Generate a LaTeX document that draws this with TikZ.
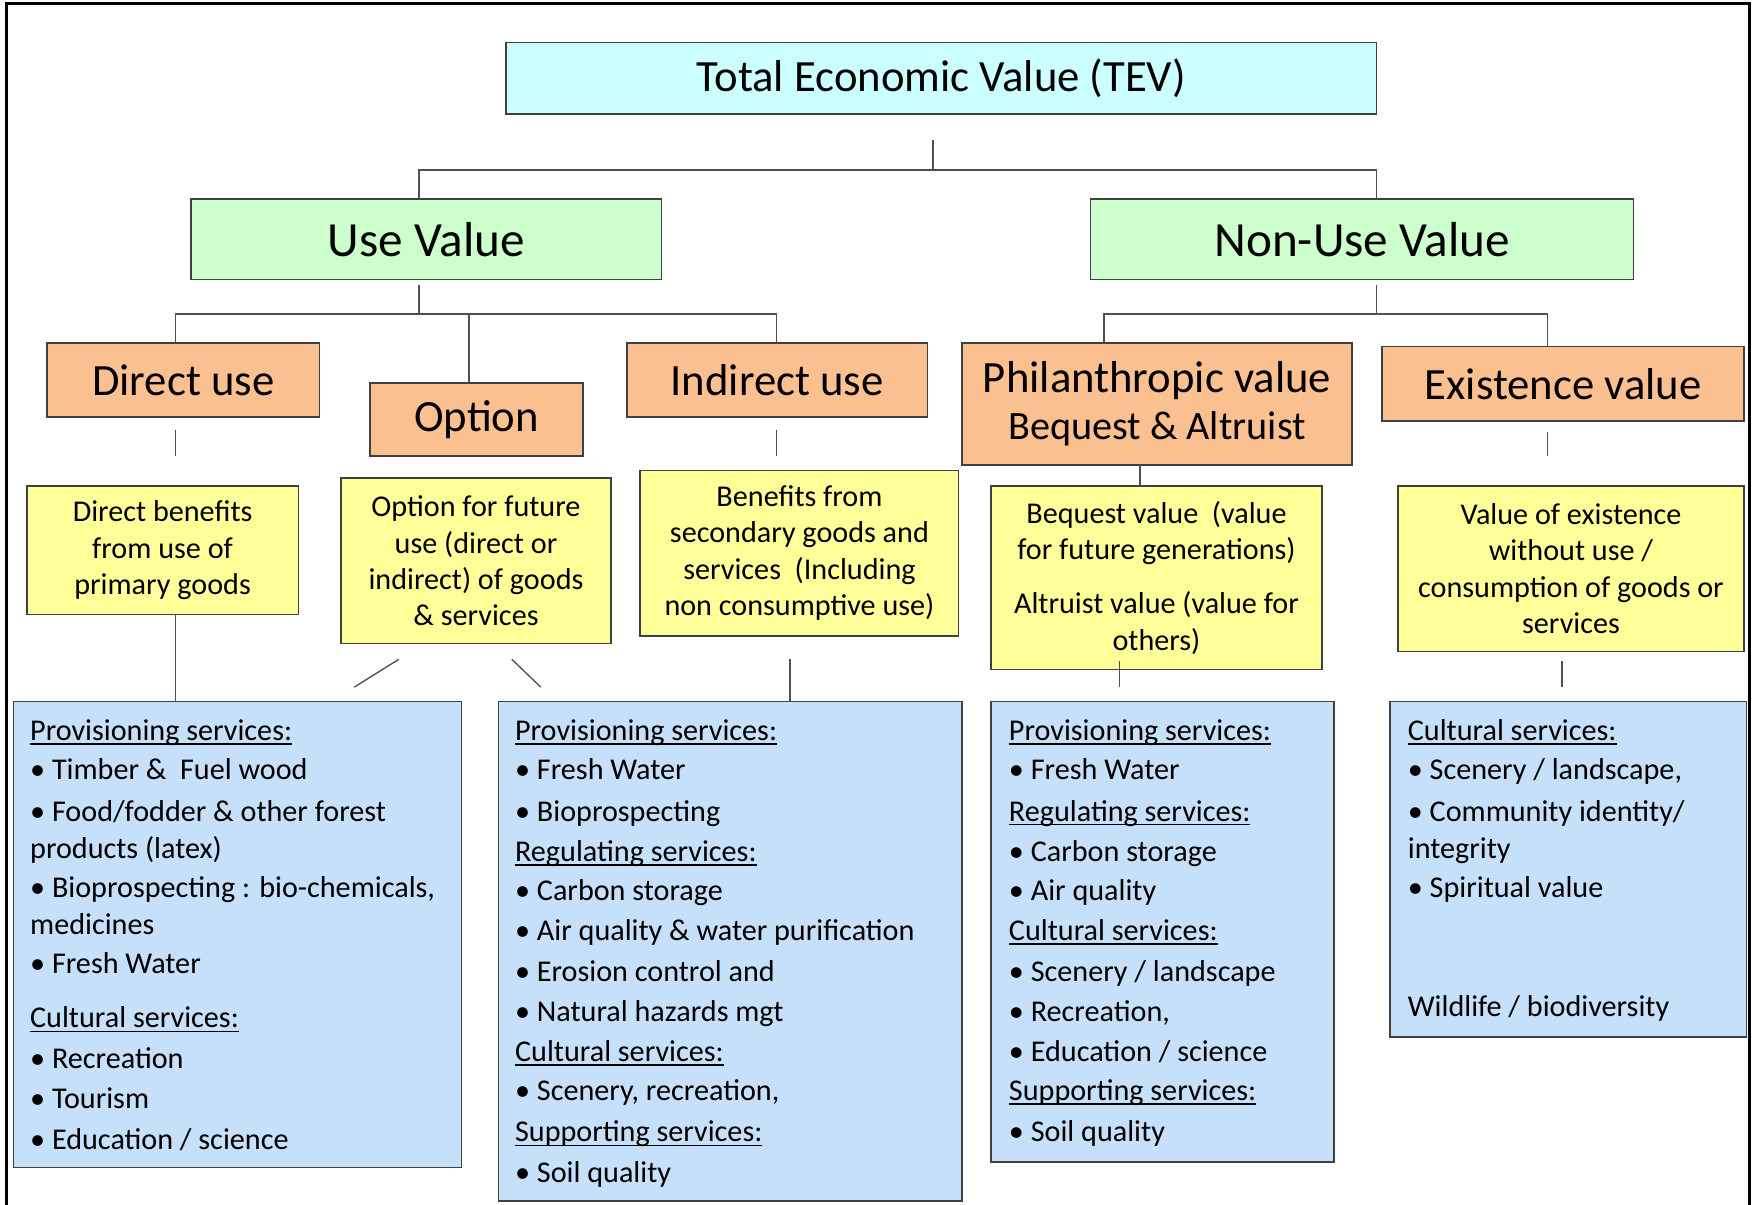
\documentclass[tikz,border=0pt]{standalone}
\usepackage{fontspec}
\setmainfont{Carlito}
\definecolor{bordercol}{HTML}{404040}
\definecolor{tevcol}{HTML}{CCFFFF}
\definecolor{greencol}{HTML}{CCFFCC}
\definecolor{orangecol}{HTML}{FAC090}
\definecolor{yellowcol}{HTML}{FFFF99}
\definecolor{bluecol}{HTML}{C6E0FA}
\definecolor{linecol}{HTML}{505050}
\newcommand\ulx[1]{\setbox0\hbox{#1}\rlap{\rule[-3.6pt]{\wd0}{1.2pt}}\box0}
\begin{document}
\begin{tikzpicture}[x=1pt,y=-1pt,
  box/.style={draw=bordercol, line width=1.4pt, inner sep=0pt, outer sep=0pt, align=center, text=black},
  tevbox/.style={box, fill=tevcol, font=\fontsize{40}{48}\selectfont},
  greenbox/.style={box, fill=greencol, font=\fontsize{44}{52}\selectfont},
  orangebox/.style={box, fill=orangecol, font=\fontsize{40}{45}\selectfont},
  yellowbox/.style={box, fill=yellowcol, font=\fontsize{27}{32.5}\selectfont},
  bluebox/.style={box, fill=bluecol},
  ln/.style={draw=linecol, line width=1.5pt},
  txt/.style={anchor=base west, inner sep=0pt, outer sep=0pt, font=\fontsize{27}{32}\selectfont}
]
\useasboundingbox (0,0) rectangle (1568,1078);
\fill[white] (0,0) rectangle (1568,1078);
\draw[line width=3pt, black] (6,1080) -- (6,3) -- (1566,3) -- (1566,1080);

% level 0/1/2 boxes
\node[tevbox, minimum width=779pt, minimum height=64pt] (tev) at (842.5,70) {Total Economic Value (TEV)};
\node[greenbox, minimum width=421pt, minimum height=72pt] (usev) at (381.5,214) {Use Value};
\node[greenbox, minimum width=486pt, minimum height=72pt] (nonuse) at (1219,214) {Non-Use Value};
\node[orangebox, minimum width=244pt, minimum height=66pt] (direct) at (164,340) {Direct use};
\node[orangebox, minimum width=191pt, minimum height=65pt] (option) at (426.5,375.5) {Option};
\node[orangebox, minimum width=269pt, minimum height=66pt] (indirect) at (695.5,340) {Indirect use};
\node[orangebox, minimum width=349pt, minimum height=109pt] (phil) at (1035.5,361.5) {\raisebox{-3pt}{Philanthropic value}\\{\fontsize{36}{45}\selectfont Bequest \& Altruist}};
\node[orangebox, minimum width=324pt, minimum height=67pt] (exist) at (1399,343.5) {Existence value};

% yellow boxes
\node[yellowbox, minimum width=243pt, minimum height=115pt] (y1) at (145.5,492.5) {Direct benefits\\from use of\\primary goods};
\node[yellowbox, minimum width=242pt, minimum height=148pt] (y2) at (426,502) {Option for future\\use (direct or\\indirect) of goods\\\& services};
\node[yellowbox, minimum width=285pt, minimum height=148pt] (y3) at (715.5,495) {Benefits from\\secondary goods and\\services~~(Including\\non consumptive use)};
\node[yellowbox, minimum width=296pt, minimum height=164pt] (y4) at (1035,517) {Bequest value~~(value\\for future generations)\\[16pt]Altruist value (value for\\others)};
\node[yellowbox, minimum width=310pt, minimum height=148pt] (y5) at (1406,509) {Value of existence\\without use /\\consumption of goods or\\services};

% blue boxes
\node[bluebox, minimum width=401pt, minimum height=417pt] (b1) at (212.5,836.5) {};
\node[bluebox, minimum width=415pt, minimum height=447pt] (b2) at (653.5,851.5) {};
\node[bluebox, minimum width=307pt, minimum height=412pt] (b3) at (1040.5,834) {};
\node[bluebox, minimum width=319pt, minimum height=300pt] (b4) at (1403.5,778) {};

% connectors top
\coordinate (t0) at (835,125);
\coordinate (t1) at (835,152);
\coordinate (tL) at (375,152);
\coordinate (tR) at (1232,152);
\draw[ln] (t0) -- (t1);
\draw[ln] (tL |- usev.north) -- (tL) -- (tR) -- (tR |- nonuse.north);

\coordinate (u0) at (375,255);
\coordinate (u1) at (375,281);
\coordinate (uL) at (157,281);
\coordinate (uM) at (420,281);
\coordinate (uR) at (695,281);
\draw[ln] (u0) -- (u1);
\draw[ln] (uL |- direct.north) -- (uL) -- (uR) -- (uR |- indirect.north);
\draw[ln] (uM) -- (uM |- option.north);

\coordinate (n0) at (1232,255);
\coordinate (n1) at (1232,281);
\coordinate (nL) at (988,281);
\coordinate (nR) at (1385,281);
\draw[ln] (n0) -- (n1);
\draw[ln] (nL |- phil.north) -- (nL) -- (nR) -- (nR |- exist.north);

% ticks below orange boxes
\coordinate (k1a) at (157,385); \coordinate (k1b) at (157,408);
\coordinate (k3a) at (695,385); \coordinate (k3b) at (695,408);
\coordinate (k5a) at (1385,387); \coordinate (k5b) at (1385,408);
\draw[ln] (k1a) -- (k1b);
\draw[ln] (k3a) -- (k3b);
\draw[ln] (k5a) -- (k5b);
\coordinate (px) at (1020,0);
\draw[ln] (phil.south -| px) -- (y4.north -| px);

% connectors below yellow boxes
\coordinate (dx) at (157,0);
\draw[ln] (y1.south -| dx) -- (b1.north -| dx);
\coordinate (o1a) at (317,615); \coordinate (o1b) at (357,590);
\coordinate (o2a) at (458,590); \coordinate (o2b) at (484,615);
\draw[ln, line width=1.2pt] (o1a) -- (o1b);
\draw[ln, line width=1.2pt] (o2a) -- (o2b);
\coordinate (i0) at (707,590);
\draw[ln] (i0) -- (i0 |- b2.north);
\coordinate (q0) at (1002,592); \coordinate (q1) at (1002,615);
\draw[ln] (q0) -- (q1);
\coordinate (e0) at (1398,592); \coordinate (e1) at (1398,615);
\draw[ln] (e0) -- (e1);

% blue box 1 text
\node[txt] (b1t1) at (27,663) {\ulx{Provisioning services:}};
\node[txt] (b1t2) at (27,698) {• Timber \&~~Fuel wood};
\node[txt] (b1t3) at (27,735) {• Food/fodder \& other forest};
\node[txt] (b1t4) at (27,768) {products (latex)};
\node[txt] (b1t5) at (27,803) {• Bioprospecting : bio-chemicals,};
\node[txt] (b1t6) at (27,836) {medicines};
\node[txt] (b1t7) at (27,871) {• Fresh Water};
\node[txt] (b1t8) at (27,920) {\ulx{Cultural services:}};
\node[txt] (b1t9) at (27,956) {• Recreation};
\node[txt] (b1t10) at (27,992) {• Tourism};
\node[txt] (b1t11) at (27,1029) {• Education / science};

% blue box 2 text
\node[txt] (b2t1) at (461,663) {\ulx{Provisioning services:}};
\node[txt] (b2t2) at (461,698) {• Fresh Water};
\node[txt] (b2t3) at (461,735) {• Bioprospecting};
\node[txt] (b2t4) at (461,771) {\ulx{Regulating services:}};
\node[txt] (b2t5) at (461,806) {• Carbon storage};
\node[txt] (b2t6) at (461,842) {• Air quality \& water purification};
\node[txt] (b2t7) at (461,878) {• Erosion control and};
\node[txt] (b2t8) at (461,914) {• Natural hazards mgt};
\node[txt] (b2t9) at (461,950) {\ulx{Cultural services:}};
\node[txt] (b2t10) at (461,985) {• Scenery, recreation,};
\node[txt] (b2t11) at (461,1022) {\ulx{Supporting services:}};
\node[txt] (b2t12) at (461,1058) {• Soil quality};

% blue box 3 text
\node[txt] (b3t1) at (903,663) {\ulx{Provisioning services:}};
\node[txt] (b3t2) at (903,698) {• Fresh Water};
\node[txt] (b3t3) at (903,735) {\ulx{Regulating services:}};
\node[txt] (b3t4) at (903,771) {• Carbon storage};
\node[txt] (b3t5) at (903,806) {• Air quality};
\node[txt] (b3t6) at (903,842) {\ulx{Cultural services:}};
\node[txt] (b3t7) at (903,878) {• Scenery / landscape};
\node[txt] (b3t8) at (903,914) {• Recreation,};
\node[txt] (b3t9) at (903,950) {• Education / science};
\node[txt] (b3t10) at (903,985) {\ulx{Supporting services:}};
\node[txt] (b3t11) at (903,1022) {• Soil quality};

% blue box 4 text
\node[txt] (b4t1) at (1260,663) {\ulx{Cultural services:}};
\node[txt] (b4t2) at (1260,698) {• Scenery / landscape,};
\node[txt] (b4t3) at (1260,735) {• Community identity/};
\node[txt] (b4t4) at (1260,768) {integrity};
\node[txt] (b4t5) at (1260,803) {• Spiritual value};
\node[txt] (b4t6) at (1260,910) {Wildlife / biodiversity};
\end{tikzpicture}
\end{document}
